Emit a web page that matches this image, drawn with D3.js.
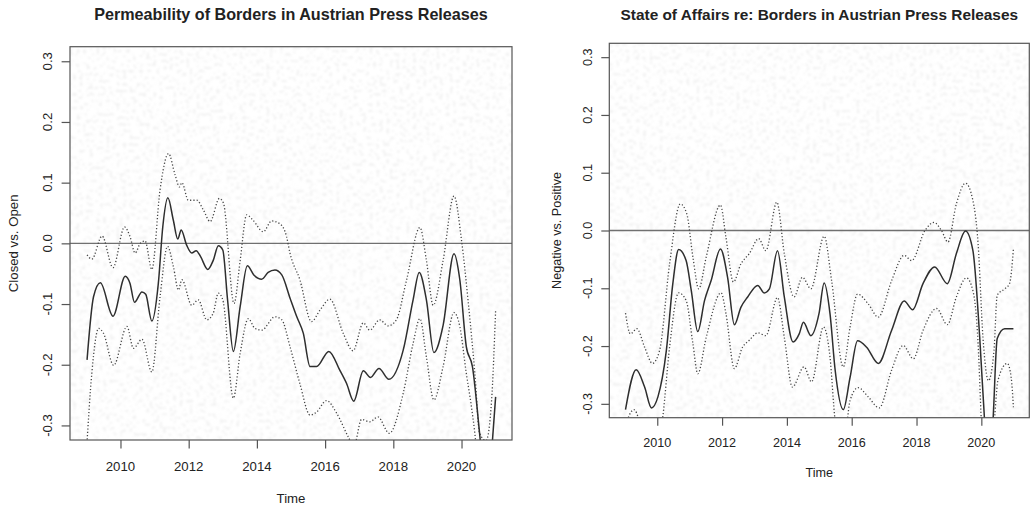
<!DOCTYPE html>
<html>
<head>
<meta charset="utf-8">
<script src="https://cdn.jsdelivr.net/npm/d3@7"></script>
<style>
  html, body { margin: 0; padding: 0; background: #fff; }
  svg { display: block; }
  text { font-family: Helvetica, Arial, "Liberation Sans", sans-serif; fill: #222; }
</style>
</head>
<body>
<svg id="chart" width="1030" height="511"></svg>
<script>
// ---- data: smoothed estimate with upper / lower confidence bands, [year, value] ----
const permEstimate = [
  [2009.02,-0.192],[2009.21,-0.088],[2009.41,-0.065],[2009.78,-0.120],[2010.14,-0.054],[2010.28,-0.066],
  [2010.41,-0.097],[2010.63,-0.080],[2010.74,-0.084],[2010.92,-0.128],[2011.11,-0.066],[2011.24,0.027],
  [2011.39,0.075],[2011.55,0.038],[2011.68,0.007],[2011.78,0.022],[2011.94,-0.003],[2012.09,-0.016],
  [2012.22,-0.012],[2012.35,-0.022],[2012.56,-0.043],[2012.72,-0.028],[2012.87,-0.004],[2013.00,-0.011],
  [2013.14,-0.093],[2013.31,-0.178],[2013.51,-0.104],[2013.72,-0.037],[2013.91,-0.052],[2014.14,-0.059],
  [2014.33,-0.048],[2014.53,-0.044],[2014.73,-0.052],[2014.97,-0.090],[2015.17,-0.121],[2015.36,-0.148],
  [2015.56,-0.203],[2015.75,-0.203],[2016.11,-0.178],[2016.43,-0.209],[2016.63,-0.231],[2016.84,-0.260],
  [2017.12,-0.210],[2017.33,-0.221],[2017.58,-0.206],[2017.87,-0.224],[2018.29,-0.176],[2018.58,-0.093],
  [2018.76,-0.048],[2018.97,-0.093],[2019.19,-0.180],[2019.46,-0.135],[2019.78,-0.017],[2019.95,-0.060],
  [2020.14,-0.170],[2020.32,-0.203],[2020.53,-0.313],[2020.72,-0.420],[2020.90,-0.330],[2021.00,-0.253]
];
const permUpper = [
  [2009.02,-0.019],[2009.16,-0.026],[2009.46,0.012],[2009.78,-0.040],[2010.12,0.027],[2010.28,0.011],
  [2010.43,-0.016],[2010.58,0.000],[2010.72,0.004],[2010.92,-0.043],[2011.16,0.088],[2011.41,0.148],
  [2011.60,0.113],[2011.73,0.093],[2011.80,0.100],[2011.99,0.071],[2012.24,0.071],[2012.43,0.055],
  [2012.63,0.036],[2012.90,0.074],[2013.02,0.066],[2013.33,-0.099],[2013.51,-0.028],[2013.70,0.047],
  [2013.89,0.038],[2014.19,0.019],[2014.43,0.037],[2014.68,0.032],[2014.87,0.011],[2014.97,-0.016],
  [2015.26,-0.060],[2015.60,-0.129],[2015.85,-0.110],[2016.14,-0.092],[2016.53,-0.148],[2016.82,-0.177],
  [2017.12,-0.131],[2017.31,-0.143],[2017.60,-0.126],[2017.85,-0.136],[2018.09,-0.126],[2018.39,-0.060],
  [2018.78,0.026],[2018.97,-0.028],[2019.17,-0.102],[2019.46,-0.028],[2019.78,0.078],[2020.00,0.005],
  [2020.19,-0.093],[2020.39,-0.214],[2020.53,-0.313],[2020.72,-0.325],[2020.88,-0.260],[2021.00,-0.110]
];
const permLower = [
  [2009.00,-0.345],[2009.16,-0.214],[2009.36,-0.140],[2009.50,-0.148],[2009.80,-0.201],[2010.19,-0.137],
  [2010.38,-0.173],[2010.63,-0.158],[2010.92,-0.212],[2011.16,-0.088],[2011.38,-0.005],[2011.55,-0.038],
  [2011.70,-0.077],[2011.80,-0.060],[2012.09,-0.102],[2012.28,-0.093],[2012.53,-0.126],[2012.72,-0.115],
  [2012.87,-0.082],[2013.00,-0.093],[2013.31,-0.255],[2013.51,-0.181],[2013.75,-0.124],[2013.94,-0.140],
  [2014.14,-0.143],[2014.53,-0.121],[2014.73,-0.126],[2014.97,-0.170],[2015.26,-0.231],[2015.56,-0.283],
  [2015.75,-0.278],[2016.04,-0.259],[2016.34,-0.280],[2016.68,-0.319],[2016.84,-0.335],[2017.07,-0.290],
  [2017.31,-0.294],[2017.55,-0.286],[2017.88,-0.313],[2018.29,-0.247],[2018.58,-0.165],[2018.78,-0.124],
  [2018.97,-0.187],[2019.19,-0.258],[2019.46,-0.203],[2019.78,-0.114],[2019.95,-0.137],[2020.14,-0.214],
  [2020.29,-0.269],[2020.39,-0.313],[2020.60,-0.450],[2021.00,-0.450]
];

const stateEstimate = [
  [2009.02,-0.310],[2009.35,-0.241],[2009.61,-0.271],[2009.82,-0.307],[2010.02,-0.288],[2010.28,-0.208],
  [2010.48,-0.092],[2010.66,-0.033],[2010.89,-0.052],[2011.05,-0.104],[2011.25,-0.175],[2011.46,-0.121],
  [2011.66,-0.087],[2011.95,-0.032],[2012.17,-0.081],[2012.38,-0.163],[2012.58,-0.133],[2012.79,-0.115],
  [2013.10,-0.095],[2013.30,-0.108],[2013.46,-0.101],[2013.71,-0.035],[2013.92,-0.115],[2014.19,-0.193],
  [2014.38,-0.179],[2014.51,-0.159],[2014.74,-0.182],[2014.99,-0.144],[2015.15,-0.091],[2015.33,-0.144],
  [2015.49,-0.242],[2015.74,-0.310],[2015.95,-0.254],[2016.18,-0.191],[2016.46,-0.202],[2016.82,-0.230],
  [2017.23,-0.173],[2017.62,-0.122],[2017.88,-0.137],[2018.20,-0.092],[2018.56,-0.063],[2018.95,-0.092],
  [2019.23,-0.040],[2019.51,-0.001],[2019.74,-0.035],[2019.95,-0.185],[2020.10,-0.329],[2020.23,-0.420],
  [2020.36,-0.329],[2020.49,-0.187],[2020.72,-0.170],[2020.99,-0.170]
];
const stateUpper = [
  [2009.02,-0.143],[2009.17,-0.179],[2009.37,-0.170],[2009.61,-0.202],[2009.85,-0.230],[2010.07,-0.208],
  [2010.38,-0.058],[2010.71,0.046],[2010.91,0.029],[2011.10,-0.046],[2011.28,-0.101],[2011.51,-0.046],
  [2011.95,0.044],[2012.12,-0.012],[2012.35,-0.089],[2012.58,-0.058],[2012.84,-0.040],[2013.13,-0.014],
  [2013.35,-0.035],[2013.69,0.049],[2013.92,-0.040],[2014.22,-0.115],[2014.48,-0.081],[2014.74,-0.101],
  [2015.15,-0.010],[2015.38,-0.087],[2015.74,-0.236],[2015.95,-0.167],[2016.18,-0.110],[2016.51,-0.127],
  [2016.82,-0.150],[2017.23,-0.087],[2017.62,-0.043],[2017.85,-0.052],[2018.26,0.000],[2018.54,0.014],
  [2018.77,0.000],[2018.97,-0.020],[2019.23,0.046],[2019.51,0.082],[2019.74,0.052],[2019.90,-0.023],
  [2020.05,-0.185],[2020.22,-0.260],[2020.39,-0.208],[2020.49,-0.112],[2020.72,-0.101],[2020.87,-0.092],
  [2020.99,-0.032]
];
const stateLower = [
  [2009.00,-0.340],[2009.28,-0.310],[2009.60,-0.360],[2009.90,-0.400],[2010.17,-0.323],[2010.38,-0.202],
  [2010.66,-0.108],[2010.89,-0.121],[2011.10,-0.196],[2011.25,-0.248],[2011.51,-0.185],[2011.97,-0.108],
  [2012.12,-0.144],[2012.38,-0.239],[2012.63,-0.202],[2012.84,-0.190],[2013.10,-0.177],[2013.35,-0.182],
  [2013.71,-0.116],[2013.92,-0.185],[2014.17,-0.271],[2014.53,-0.236],[2014.76,-0.262],[2015.13,-0.167],
  [2015.33,-0.219],[2015.49,-0.329],[2015.74,-0.380],[2015.95,-0.294],[2016.20,-0.272],[2016.51,-0.288],
  [2016.85,-0.307],[2017.23,-0.242],[2017.59,-0.199],[2017.90,-0.222],[2018.20,-0.173],[2018.62,-0.135],
  [2018.95,-0.163],[2019.23,-0.115],[2019.54,-0.082],[2019.74,-0.104],[2019.90,-0.196],[2020.00,-0.329],
  [2020.20,-0.450],[2020.41,-0.323],[2020.51,-0.260],[2020.80,-0.230],[2020.92,-0.254],[2020.99,-0.306]
];

const xTicks = [2010, 2012, 2014, 2016, 2018, 2020];
const yTicks = [-0.3, -0.2, -0.1, 0.0, 0.1, 0.2, 0.3];
const xDomain = [2008.52, 2021.48];
const yDomain = [-0.324, 0.324];

const titles = ["Permeability of Borders in Austrian Press Releases",
                "State of Affairs re: Borders in Austrian Press Releases"];
const yLabels = ["Closed vs. Open", "Negative vs. Positive"];
const xLabel = "Time";

// ---- layout of the two panels ----
const panels = [
  { left: 70, right: 512, top: 46.7, bottom: 440, s: 1.05,
    title: titles[0], ylab: yLabels[0],
    est: permEstimate, up: permUpper, lo: permLower,
    titleY: 20, xTickY: 470.5, xLabY: 503, yTickX: 52, yLabX: 18 },
  { left: 609.3, right: 1029.3, top: 43.3, bottom: 417.7, s: 1.0,
    title: titles[1], ylab: yLabels[1],
    est: stateEstimate, up: stateUpper, lo: stateLower,
    titleY: 20, xTickY: 446.5, xLabY: 477, yTickX: 591.5, yLabX: 561 }
];

const svg = d3.select("#chart");
const defs = svg.append("defs");

// faint speckled grain used as the plot-area backdrop
const grain = defs.append("filter").attr("id", "grain")
  .attr("x", 0).attr("y", 0).attr("width", 1).attr("height", 1);
grain.append("feTurbulence").attr("type", "fractalNoise")
  .attr("baseFrequency", 0.3).attr("numOctaves", 1).attr("seed", 11);
grain.append("feColorMatrix").attr("type", "matrix")
  .attr("values", "0 0 0 0 0.5  0 0 0 0 0.5  0 0 0 0 0.5  9 0 0 0 -5.0");
grain.append("feGaussianBlur").attr("stdDeviation", 1.1);

panels.forEach((p, i) => {
  const x = d3.scaleLinear().domain(xDomain).range([p.left, p.right]);
  const y = d3.scaleLinear().domain(yDomain).range([p.bottom, p.top]);
  const g = svg.append("g");
  const fs = 12.6 * p.s;

  const clipId = "clip" + i;
  defs.append("clipPath").attr("id", clipId)
    .append("rect").attr("x", p.left).attr("y", p.top)
    .attr("width", p.right - p.left).attr("height", p.bottom - p.top);

  // backdrop grain
  g.append("rect").attr("x", p.left).attr("y", p.top)
    .attr("width", p.right - p.left).attr("height", p.bottom - p.top)
    .attr("fill", "#fff").attr("filter", "url(#grain)").attr("opacity", 0.2);

  // zero reference line
  g.append("line").attr("x1", p.left).attr("x2", p.right)
    .attr("y1", y(0)).attr("y2", y(0))
    .attr("stroke", "#707070").attr("stroke-width", 1.4);

  const line = d3.line().x(d => x(d[0])).y(d => y(d[1])).curve(d3.curveMonotoneX);
  const plot = g.append("g").attr("clip-path", `url(#${clipId})`);

  [p.up, p.lo].forEach(band => {
    plot.append("path").datum(band).attr("d", line)
      .attr("fill", "none").attr("stroke", "#444")
      .attr("stroke-width", 1.3).attr("stroke-dasharray", "1.2,2.1");
  });
  plot.append("path").datum(p.est).attr("d", line)
    .attr("fill", "none").attr("stroke", "#2e2e2e")
    .attr("stroke-width", 1.5).attr("stroke-linejoin", "round");

  // frame
  g.append("rect").attr("x", p.left).attr("y", p.top)
    .attr("width", p.right - p.left).attr("height", p.bottom - p.top)
    .attr("fill", "none").attr("stroke", "#555").attr("stroke-width", 1.2);

  // x axis ticks
  const xAxis = d3.axisBottom(x).tickValues(xTicks).tickSize(8 * p.s).tickFormat("");
  const xa = g.append("g").attr("transform", `translate(0,${p.bottom})`).call(xAxis);
  xa.select(".domain").remove();
  xa.selectAll("line").attr("stroke", "#555").attr("stroke-width", 1.2);
  g.selectAll(null).data(xTicks).join("text")
    .attr("x", d => x(d)).attr("y", p.xTickY)
    .attr("text-anchor", "middle").attr("font-size", fs).text(d => d);

  // y axis ticks with labels parallel to the axis
  const yAxis = d3.axisLeft(y).tickValues(yTicks).tickSize(8 * p.s).tickFormat("");
  const ya = g.append("g").attr("transform", `translate(${p.left},0)`).call(yAxis);
  ya.select(".domain").remove();
  ya.selectAll("line").attr("stroke", "#555").attr("stroke-width", 1.2);
  g.selectAll(null).data(yTicks).join("text")
    .attr("transform", d => `translate(${p.yTickX},${y(d)}) rotate(-90)`)
    .attr("text-anchor", "middle").attr("font-size", fs)
    .text(d => d3.format(".1f")(d).replace("−", "-"));

  // titles and axis labels
  g.append("text").attr("x", (p.left + p.right) / 2).attr("y", p.titleY)
    .attr("text-anchor", "middle").attr("font-weight", "bold")
    .attr("font-size", 15.4 * p.s).text(p.title);
  g.append("text").attr("x", (p.left + p.right) / 2).attr("y", p.xLabY)
    .attr("text-anchor", "middle").attr("font-size", fs).text(xLabel);
  g.append("text")
    .attr("transform", `translate(${p.yLabX},${(p.top + p.bottom) / 2}) rotate(-90)`)
    .attr("text-anchor", "middle").attr("font-size", fs).text(p.ylab);
});
</script>
</body>
</html>
